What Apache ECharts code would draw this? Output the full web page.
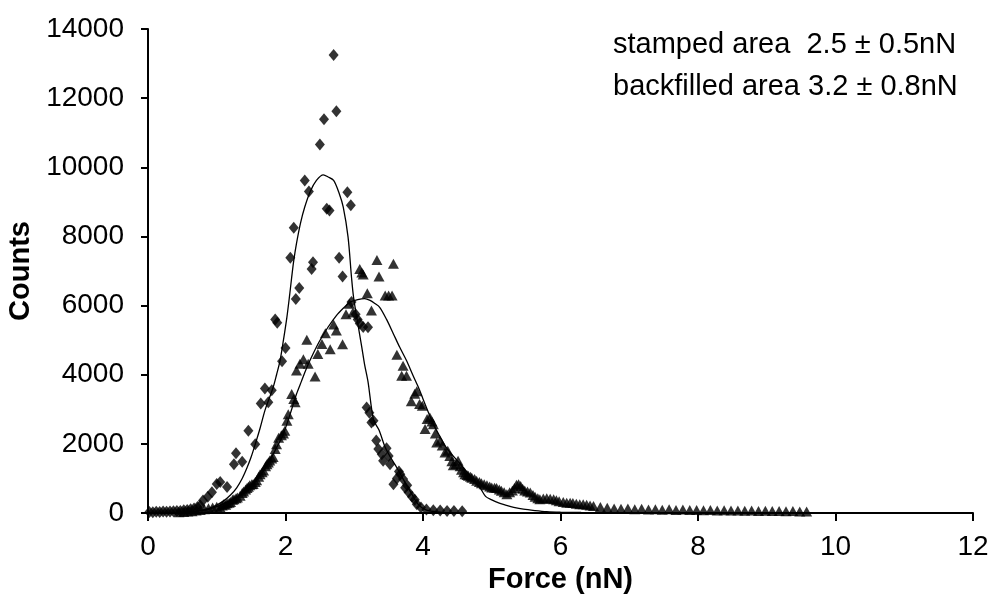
<!DOCTYPE html>
<html>
<head>
<meta charset="utf-8">
<script src="https://cdn.jsdelivr.net/npm/echarts@6/dist/echarts.min.js"></script>
<style>
  html, body { margin: 0; padding: 0; background: #fff; }
  #chart { width: 995px; height: 597px; }
</style>
</head>
<body>
<div id="chart"></div>
<script>
// Force histogram: [force (nN), counts]
const stampedPoints = [
  [0.02,30],[0.07,25],[0.12,35],[0.17,30],[0.22,40],[0.27,35],[0.32,45],[0.37,50],[0.42,55],[0.47,60],
  [0.52,80],[0.57,90],[0.62,110],[0.67,130],[0.72,170],[0.76,220],[0.80,360],[0.87,470],[0.93,600],
  [1.00,840],[1.05,900],[1.15,750],[1.25,1410],[1.28,1730],[1.37,1480],[1.46,2380],[1.56,1990],
  [1.64,3170],[1.70,3600],[1.75,3200],[1.80,3550],[1.85,5600],[1.88,5500],[1.95,4390],[2.00,4770],
  [2.07,7380],[2.12,8250],[2.15,6190],[2.20,6510],[2.28,9620],[2.34,9300],[2.38,7060],[2.40,7250],
  [2.50,10660],[2.56,11390],[2.60,8800],[2.64,8750],[2.70,13250],[2.74,11620],[2.78,7380],[2.83,6840],
  [2.90,9280],[2.95,8900],[2.96,6100],[3.02,5750],[3.05,5600],[3.08,5480],[3.13,5380],[3.18,3050],
  [3.20,5370],[3.22,2900],[3.25,2620],[3.28,2670],[3.32,2100],[3.35,1850],[3.40,1700],[3.42,1510],
  [3.47,1870],[3.50,1650],[3.52,1410],[3.57,830],[3.62,1000],[3.65,1200],[3.67,1120],[3.71,980],
  [3.74,730],[3.77,800],[3.79,600],[3.84,470],[3.88,380],[3.91,250],[3.97,160],
  [4.05,100],[4.15,80],[4.25,70],[4.35,60],[4.45,55],[4.57,50]
];

const backfilledPoints = [
  [0.45,20],[0.52,30],[0.58,40],[0.64,50],[0.70,70],[0.76,90],[0.82,110],[0.88,140],[0.94,160],[1.00,180],
  [1.05,160],[1.08,220],[1.10,250],[1.13,240],[1.15,280],[1.18,300],[1.20,320],[1.23,380],[1.25,400],
  [1.28,430],[1.30,450],[1.34,500],[1.37,580],[1.39,620],[1.42,680],[1.44,720],[1.46,760],
  [1.48,800],[1.51,830],[1.53,840],[1.56,900],[1.58,950],[1.61,1050],[1.63,1120],[1.66,1180],
  [1.68,1230],[1.71,1350],[1.73,1410],[1.75,1460],[1.77,1520],[1.80,1580],[1.82,1620],[1.85,1850],
  [1.87,1990],[1.90,2180],[1.94,2250],[1.97,2300],[1.99,2380],[2.02,2670],[2.04,2860],[2.09,3440],
  [2.12,3300],[2.14,3200],[2.16,4120],[2.21,4320],[2.26,4450],[2.31,5010],[2.33,4320],[2.43,3950],
  [2.47,4600],[2.53,4890],[2.58,5200],[2.65,4740],[2.70,5450],[2.74,5280],[2.83,4880],[2.88,5750],
  [2.93,6050],[2.98,5800],
  [3.08,7060],[3.11,6960],[3.13,6900],[3.19,6360],[3.25,5860],[3.33,7320],[3.36,6840],[3.45,6290],
  [3.50,6290],[3.55,6290],[3.57,7210],[3.62,4580],[3.69,3970],[3.71,4260],[3.76,3970],
  [3.83,3230],[3.88,3450],[3.91,3520],[3.95,3150],[3.99,3100],[4.03,2430],[4.06,2720],[4.10,2760],
  [4.13,2650],[4.15,2570],[4.18,2300],[4.20,2040],[4.25,2090],[4.28,1950],[4.32,1750],[4.36,1800],
  [4.39,1650],[4.42,1500],[4.44,1380],[4.48,1420],[4.51,1510],[4.54,1350],[4.56,1250],[4.59,1180],
  [4.61,1120],[4.64,1100],[4.66,1080],[4.69,1050],[4.71,1020],[4.75,980],[4.78,930],[4.82,900],
  [4.85,860],[4.89,830],[4.93,800],[4.97,770],[5.00,740],[5.04,730],[5.07,720],[5.11,680],
  [5.14,640],[5.18,600],[5.22,540],[5.26,600],[5.30,650],[5.33,720],[5.36,820],[5.39,830],
  [5.42,780],[5.45,700],[5.48,650],[5.52,620],[5.56,590],[5.60,520],[5.63,470],[5.67,430],
  [5.70,400],[5.75,420],[5.80,430],[5.85,410],[5.90,400],[5.94,370],[5.98,340],[6.04,320],
  [6.09,300],[6.14,300],[6.18,290],[6.23,270],[6.28,250],[6.33,250],[6.38,240],[6.43,220],[6.48,200],
  [6.58,170],[6.68,150],[6.78,130],[6.88,120],[6.98,130],[7.08,110],[7.18,120],[7.28,100],[7.38,110],
  [7.48,95],[7.58,105],[7.68,90],[7.78,100],[7.88,85],[7.98,90],[8.08,80],[8.18,85],[8.28,75],
  [8.38,80],[8.48,70],[8.58,75],[8.68,65],[8.78,70],[8.88,60],[8.98,65],[9.08,55],[9.18,60],
  [9.28,50],[9.38,55],[9.48,45],[9.58,45]
];

// Fitted distributions
const stampedFit = [
  [0,0],[0.3,5],[0.6,20],[0.85,110],[1.0,230],[1.1,350],[1.2,520],[1.29,730],[1.37,1000],[1.44,1310],
  [1.5,1620],[1.56,1990],[1.63,2450],[1.70,2960],[1.76,3300],[1.82,3630],[1.87,4000],[1.92,4400],
  [1.97,5000],[2.02,5660],[2.06,6300],[2.09,6820],[2.12,7300],[2.16,7800],[2.22,8400],[2.28,8850],
  [2.36,9300],[2.45,9620],[2.55,9780],[2.62,9720],[2.70,9620],[2.78,9250],[2.84,8850],[2.91,7980],
  [2.96,6820],[2.99,6240],[3.05,5500],[3.11,4790],[3.15,4300],[3.20,3800],[3.28,2700],[3.36,2400],
  [3.45,1900],[3.53,1600],[3.62,1310],[3.72,950],[3.81,640],[3.93,250],[4.05,80],[4.25,25],[4.5,5],[4.8,0]
];

const backfilledFit = [
  [0,0],[0.4,10],[0.76,60],[0.95,150],[1.19,350],[1.44,640],[1.56,900],[1.68,1220],[1.78,1550],
  [1.87,1890],[1.95,2200],[2.02,2570],[2.09,3000],[2.16,3440],[2.23,3800],[2.31,4210],[2.40,4600],
  [2.50,4990],[2.62,5380],[2.74,5710],[2.84,5920],[2.94,6100],[3.05,6170],[3.15,6200],[3.23,6150],
  [3.30,6060],[3.37,5950],[3.47,5600],[3.57,5180],[3.66,4800],[3.76,4410],[3.85,4000],[3.93,3650],
  [4.00,3300],[4.07,2950],[4.15,2570],[4.25,2200],[4.34,1890],[4.46,1600],[4.59,1310],[4.71,1000],
  [4.83,730],[4.91,480],[5.00,380],[5.10,290],[5.20,230],[5.32,165],[5.46,110],[5.63,70],[5.80,40],
  [6.0,25],[6.3,15],[6.8,5],[7.2,0]
];

const fitLabels = ['stamped area  2.5 \u00b1 0.5nN', 'backfilled area 3.2 \u00b1 0.8nN'];

const chart = echarts.init(document.getElementById('chart'), null, { renderer: 'canvas' });

const axisFont = { fontFamily: 'Liberation Sans', fontSize: 28, color: '#000' };
const nameFont = { fontFamily: 'Liberation Sans', fontSize: 29, fontWeight: 'bold', color: '#000' };
const plainNumber = v => String(v);

chart.setOption({
  backgroundColor: '#fff',
  animation: false,
  grid: { left: 148, right: 22, top: 29, bottom: 84, containLabel: false, outerBoundsMode: 'none' },
  xAxis: {
    type: 'value', min: 0, max: 12, interval: 2,
    name: 'Force (nN)', nameLocation: 'middle', nameGap: 50, nameTextStyle: nameFont,
    axisLine: { show: true, onZero: false, lineStyle: { color: '#000', width: 2 } },
    axisTick: { show: true, inside: false, length: 8, lineStyle: { color: '#000', width: 2 } },
    axisLabel: Object.assign({ margin: 20, formatter: plainNumber }, axisFont),
    splitLine: { show: false }
  },
  yAxis: {
    type: 'value', min: 0, max: 14000, interval: 2000,
    name: 'Counts', nameLocation: 'middle', nameGap: 78, nameTextStyle: nameFont,
    axisLine: { show: true, lineStyle: { color: '#000', width: 2 } },
    axisTick: { show: true, inside: false, length: 7, lineStyle: { color: '#000', width: 2 } },
    axisLabel: Object.assign({ margin: 24, formatter: plainNumber }, axisFont),
    splitLine: { show: false }
  },
  graphic: fitLabels.map((t, i) => ({
    type: 'text', left: 613, top: 30 + i * 42, z: 10,
    style: { text: t, fontFamily: 'Liberation Sans', fontSize: 29, fill: '#000' }
  })),
  series: [
    {
      name: 'stamped fit', type: 'line', data: stampedFit, smooth: 0.3, showSymbol: false,
      lineStyle: { color: '#000', width: 1.3 }, z: 3
    },
    {
      name: 'backfilled fit', type: 'line', data: backfilledFit, smooth: 0.3, showSymbol: false,
      lineStyle: { color: '#000', width: 1.3 }, z: 3
    },
    {
      name: 'stamped area', type: 'scatter', data: stampedPoints, symbol: 'diamond', symbolSize: [10, 12],
      itemStyle: { color: '#000' }, z: 4
    },
    {
      name: 'backfilled area', type: 'scatter', data: backfilledPoints, symbol: 'triangle', symbolSize: [11, 10],
      itemStyle: { color: '#000' }, z: 4
    }
  ]
});
</script>
</body>
</html>
